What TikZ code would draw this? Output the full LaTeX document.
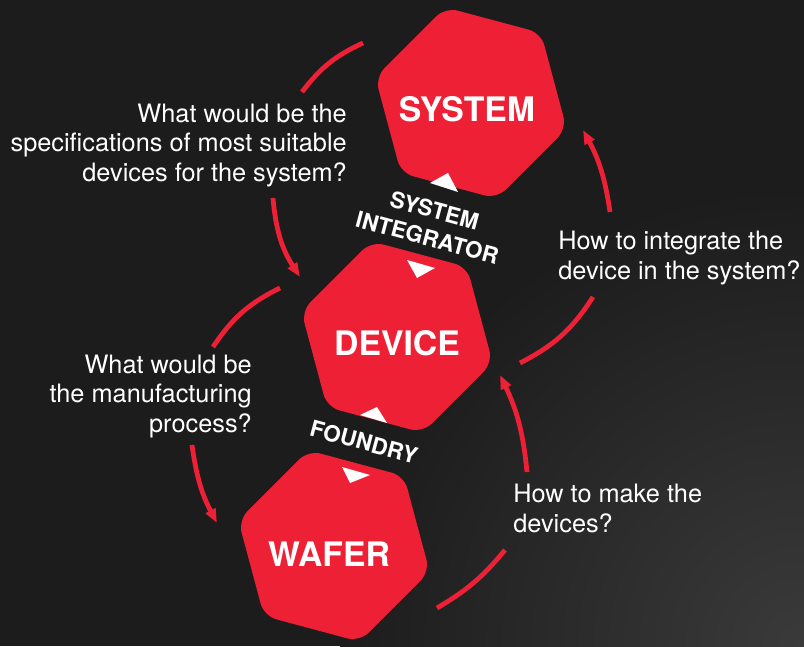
\documentclass[tikz,border=0pt]{standalone}
\usepackage{fontspec}
\setmainfont{TeX Gyre Heros}
\usetikzlibrary{arrows.meta,shapes.geometric}
\definecolor{bgdark}{RGB}{28,28,28}
\definecolor{bgglow}{RGB}{58,58,58}
\definecolor{chipred}{RGB}{237,32,53}
\tikzset{
    hexa/.style={regular polygon, regular polygon sides=6, rotate=-15, minimum size=4.95cm, inner sep=0pt, fill=chipred, rounded corners=9pt}, % 圆角六边形
    hexlabel/.style={text=white, font=\bfseries\fontsize{24}{28}\selectfont, inner sep=0pt}, % 六边形里的大字
    rolelabel/.style={text=white, font=\bfseries\fontsize{16}{20}\selectfont, align=center, rotate=-15, inner sep=0pt}, % 斜放的角色名
    question/.style={text=white, font=\fontsize{18}{21.3}\selectfont, inner sep=0pt}, % 问题文字
    flow/.style={draw=chipred, line width=3.4pt}, % 红色弧线
    flowtip/.style={flow, -{Triangle[length=10pt,width=7.5pt]}} % 带箭头的弧线
}

\begin{document}
\begin{tikzpicture}[x=0.025cm, y=0.025cm]
    \useasboundingbox (0,0) rectangle (804,646);
    \fill[bgdark] (0,0) rectangle (804,646);
    \begin{scope}
        \clip (0,0) rectangle (804,646);
        \shade[inner color=bgglow, outer color=bgdark] (800,0) circle (460);
    \end{scope}

    % 三个六边形
    \node[hexa] (sys) at (471,543) {};
    \node[hexa] (dev) at (397,309) {};
    \node[hexa] (waf) at (334,100) {};
    \node[hexlabel] (systxt) at (467,537) {SYSTEM};
    \node[hexlabel] (devtxt) at (397,303) {DEVICE};
    \node[hexlabel] (waftxt) at (329,92) {WAFER};

    % 小三角
    \fill[white] (430,463) -- (448,473) -- (458,454) -- cycle;
    \fill[white] (407,386) -- (435,378) -- (417,368) -- cycle;
    \fill[white] (360,231) -- (377,239) -- (387,223) -- cycle;
    \fill[white] (342,179) -- (370,171) -- (350,163) -- cycle;

    \node[rolelabel] (integ) at (431,422) {SYSTEM\\INTEGRATOR};
    \node[rolelabel] (fab) at (364,204) {FOUNDRY};

    % 左边的弧线
    \coordinate (l1) at (363,603); \coordinate (l2) at (302,554);
    \coordinate (l3) at (273,448); \coordinate (l4) at (300,369);
    \coordinate (l5) at (280,358); \coordinate (l6) at (213,299);
    \coordinate (l7) at (192,201); \coordinate (l8) at (217,123);
    \draw[flow] (l1) to[bend right=14] (l2);
    \draw[flowtip] (l3) to[bend right=14] (l4);
    \draw[flow] (l5) to[bend right=15] (l6);
    \draw[flowtip] (l7) to[bend right=10] (l8);

    % 右边的弧线
    \coordinate (r1) at (520,283); \coordinate (r2) at (593,349);
    \coordinate (r3) at (610,434); \coordinate (r4) at (583,516);
    \coordinate (r5) at (437,38); \coordinate (r6) at (505,96);
    \coordinate (r7) at (527,174); \coordinate (r8) at (500,271);
    \draw[flow] (r1) to[bend right=15] (r2);
    \draw[flowtip] (r3) to[bend right=10] (r4);
    \draw[flow] (r5) to[bend right=10] (r6);
    \draw[flowtip] (r7) to[bend right=10] (r8);

    % 问题
    \node[question, anchor=east, align=right] (q1) at (347,500.5) {What would be the\\specifications of most suitable\\devices for the system?};
    \node[question, anchor=east, align=right] (q2) at (252,249.5) {What would be\\the manufacturing\\process?};
    \node[question, anchor=west, align=left] (q3) at (558,388) {How to integrate the\\device in the system?};
    \node[question, anchor=west, align=left] (q4) at (513,138) {How to make the\\devices?};
\end{tikzpicture}
\end{document}
